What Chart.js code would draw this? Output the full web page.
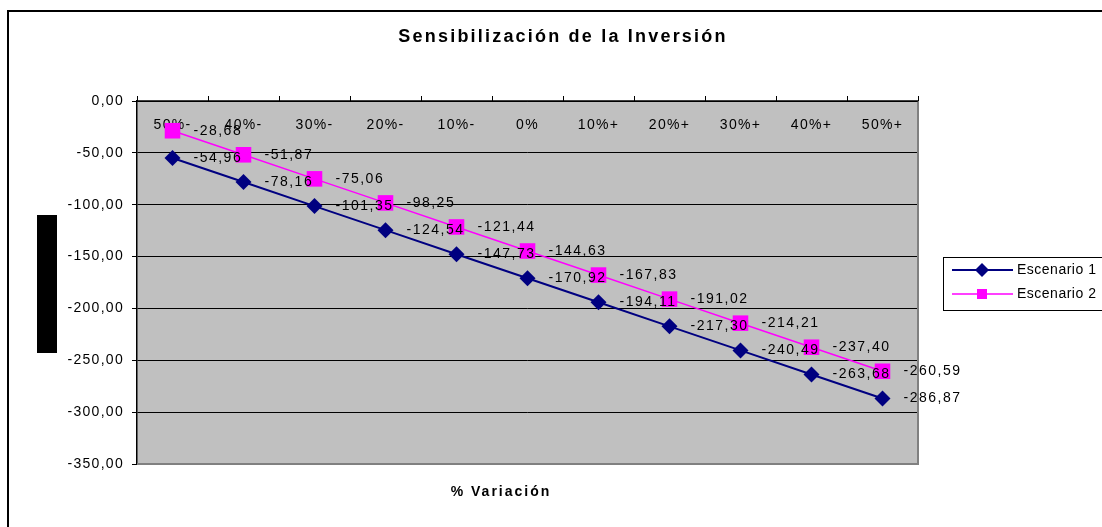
<!DOCTYPE html>
<html>
<head>
<meta charset="utf-8">
<script src="https://cdn.jsdelivr.net/npm/chart.js@4.4.1/dist/chart.umd.min.js"></script>
<style>
  html, body { margin: 0; padding: 0; background: #fff; }
  #wrap { width: 1102px; height: 527px; position: relative; }
</style>
</head>
<body>
<div id="wrap"><canvas id="chart" width="1102" height="527"></canvas></div>
<script>
// ---------------------------------------------------------------
// DATA
// ---------------------------------------------------------------
const categories = ['50%-', '40%-', '30%-', '20%-', '10%-', '0%', '10%+', '20%+', '30%+', '40%+', '50%+'];
const escenario1 = [-54.96, -78.16, -101.35, -124.54, -147.73, -170.92, -194.11, -217.30, -240.49, -263.68, -286.87];
const escenario2 = [-28.68, -51.87, -75.06, -98.25, -121.44, -144.63, -167.83, -191.02, -214.21, -237.40, -260.59];
const seriesNames = ['Escenario 1', 'Escenario 2'];
const chartTitle = 'Sensibilización de la Inversión';
const xTitle = '% Variación';

const FONT = '"Liberation Sans", Arial, sans-serif';
const SPACING = '1.3px';
const fmt = v => v.toFixed(2).replace('.', ',');

// ---------------------------------------------------------------
// PLUGIN: fondo gris, eje de categorías arriba, títulos, leyenda
// ---------------------------------------------------------------
const excelLook = {
    id: 'excelLook',
    beforeDraw(chart) {
        const { ctx, chartArea: a } = chart;
        // letras espaciadas como en Excel (también para las marcas del eje y)
        ctx.letterSpacing = SPACING;
        ctx.save();
        // marco exterior
        ctx.strokeStyle = '#000';
        ctx.lineWidth = 2;
        ctx.beginPath();
        ctx.moveTo(8, 540);
        ctx.lineTo(8, 11);
        ctx.lineTo(1110, 11);
        ctx.stroke();
        // fondo del área de trazado
        ctx.fillStyle = '#C0C0C0';
        ctx.fillRect(a.left, a.top, a.right - a.left, a.bottom - a.top);
        ctx.restore();
    },
    beforeDatasetsDraw(chart) {
        const { ctx, chartArea: a, scales } = chart;
        const x = scales.x;
        ctx.save();
        // borde derecho e inferior
        ctx.strokeStyle = '#808080';
        ctx.lineWidth = 2;
        ctx.beginPath();
        ctx.moveTo(a.left, a.bottom);
        ctx.lineTo(a.right, a.bottom);
        ctx.lineTo(a.right, a.top);
        ctx.stroke();
        // eje de categorías (en y = 0)
        ctx.strokeStyle = '#000';
        ctx.lineWidth = 1.5;
        ctx.beginPath();
        ctx.moveTo(a.left, a.top);
        ctx.lineTo(a.right, a.top);
        ctx.stroke();
        const step = x.getPixelForValue(1) - x.getPixelForValue(0);
        ctx.lineWidth = 1;
        ctx.beginPath();
        for (let i = 0; i <= categories.length; i++) {
            const px = Math.round(x.getPixelForValue(0) - step / 2 + i * step) + 0.5;
            ctx.moveTo(px, a.top);
            ctx.lineTo(px, a.top - 5);
        }
        ctx.stroke();
        // etiquetas de categoría
        ctx.fillStyle = '#000';
        ctx.font = '14px ' + FONT;
        ctx.textAlign = 'center';
        ctx.textBaseline = 'middle';
        categories.forEach((c, i) => ctx.fillText(c, x.getPixelForValue(i), a.top + 24));
        ctx.restore();
    },
    afterDatasetsDraw(chart) {
        const { ctx } = chart;
        ctx.save();
        ctx.fillStyle = '#000';
        ctx.font = '14px ' + FONT;
        ctx.letterSpacing = '1.5px';
        ctx.textAlign = 'left';
        ctx.textBaseline = 'middle';
        chart.data.datasets.forEach((ds, di) => {
            chart.getDatasetMeta(di).data.forEach((pt, i) => {
                ctx.fillText(fmt(ds.data[i]), pt.x + 21, pt.y);
            });
        });
        ctx.restore();
    },
    afterDraw(chart) {
        const { ctx } = chart;
        ctx.save();
        ctx.fillStyle = '#000';
        // título
        ctx.font = 'bold 18px ' + FONT;
        ctx.letterSpacing = '2.2px';
        ctx.textAlign = 'center';
        ctx.textBaseline = 'middle';
        ctx.fillText(chartTitle, 563, 37);
        // título eje x
        ctx.font = 'bold 14px ' + FONT;
        ctx.letterSpacing = '2px';
        ctx.fillText(xTitle, 501, 492);
        // título eje y (tapado)
        ctx.fillRect(37, 215, 20, 138);
        // leyenda
        ctx.letterSpacing = '0.5px';
        ctx.strokeStyle = '#000';
        ctx.lineWidth = 1;
        ctx.fillStyle = '#fff';
        ctx.fillRect(943.5, 257.5, 170, 53);
        ctx.strokeRect(943.5, 257.5, 170, 53);
        chart.data.datasets.forEach((ds, di) => {
            const y = 270 + di * 24;
            ctx.strokeStyle = ds.borderColor;
            ctx.lineWidth = ds.borderWidth;
            ctx.beginPath();
            ctx.moveTo(952, y);
            ctx.lineTo(1013, y);
            ctx.stroke();
            ctx.fillStyle = ds.pointBackgroundColor;
            ctx.beginPath();
            if (ds.pointStyle === 'rectRot') {
                ctx.moveTo(982, y - 7);
                ctx.lineTo(989, y);
                ctx.lineTo(982, y + 7);
                ctx.lineTo(975, y);
            } else {
                ctx.rect(977, y - 5, 10, 10);
            }
            ctx.closePath();
            ctx.fill();
            ctx.fillStyle = '#000';
            ctx.font = '14px ' + FONT;
            ctx.textAlign = 'left';
            ctx.fillText(ds.label, 1017, y);
        });
        ctx.restore();
    }
};

// ---------------------------------------------------------------
// CHART
// ---------------------------------------------------------------
new Chart(document.getElementById('chart').getContext('2d'), {
    type: 'line',
    data: {
        labels: categories,
        datasets: [
            {
                label: seriesNames[0],
                data: escenario1,
                borderColor: '#000080',
                backgroundColor: '#000080',
                pointBackgroundColor: '#000080',
                pointBorderColor: '#000080',
                borderWidth: 2,
                pointStyle: 'rectRot',
                pointRadius: 8,
                pointBorderWidth: 0,
                tension: 0
            },
            {
                label: seriesNames[1],
                data: escenario2,
                borderColor: '#FF00FF',
                backgroundColor: '#FF00FF',
                pointBackgroundColor: '#FF00FF',
                pointBorderColor: '#FF00FF',
                borderWidth: 1.5,
                pointStyle: 'rect',
                pointRadius: 11,
                pointBorderWidth: 0,
                tension: 0
            }
        ]
    },
    options: {
        responsive: false,
        animation: false,
        events: [],
        layout: { padding: { left: 0, right: 184, top: 101, bottom: 0 } },
        plugins: {
            legend: { display: false },
            title: { display: false },
            tooltip: { enabled: false }
        },
        scales: {
            x: {
                offset: true,
                ticks: { display: false },
                grid: { display: false },
                border: { display: false },
                afterFit: s => { s.height = 63; }
            },
            y: {
                min: -350,
                max: 0,
                ticks: {
                    stepSize: 50,
                    padding: 8,
                    color: '#000',
                    font: { family: FONT, size: 14 },
                    callback: v => fmt(v)
                },
                grid: { color: '#000', lineWidth: 1, tickLength: 5, tickColor: '#000' },
                border: { display: true, color: '#000', width: 1.5 },
                afterFit: s => { s.width = 137; }
            }
        }
    },
    plugins: [excelLook]
});
</script>
</body>
</html>
